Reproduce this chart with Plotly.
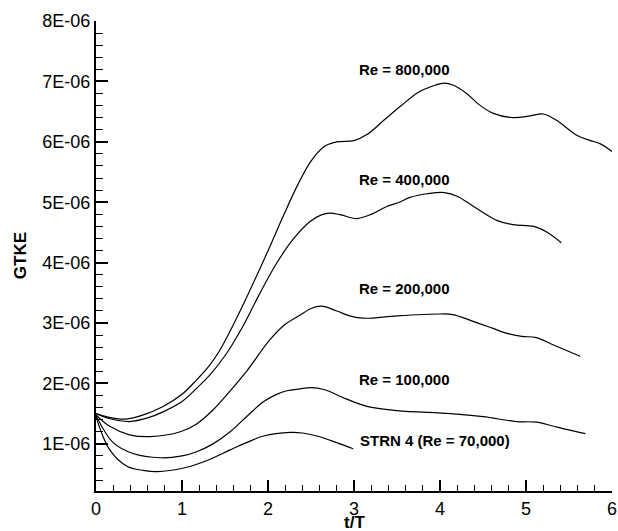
import plotly.graph_objects as go

# ---- data (t/T, GTKE in units of 1E-06) ----
re800_t = [0, 0.15, 0.35, 0.55, 0.78, 1.00, 1.17, 1.32, 1.44, 1.60, 1.73, 1.88, 2.02, 2.18, 2.35, 2.50,
           2.65, 2.80, 3.00, 3.15, 3.35, 3.55, 3.75, 3.95, 4.05, 4.15, 4.31, 4.45, 4.62, 4.85, 5.05,
           5.20, 5.35, 5.59, 5.75, 5.86, 6.00]
re800_g = [1.50, 1.44, 1.41, 1.48, 1.62, 1.82, 2.06, 2.30, 2.55, 2.98, 3.36, 3.82, 4.26, 4.78, 5.30, 5.68,
           5.92, 6.00, 6.02, 6.12, 6.36, 6.60, 6.82, 6.94, 6.97, 6.94, 6.80, 6.62, 6.47, 6.40, 6.43,
           6.46, 6.36, 6.11, 6.02, 5.97, 5.84]

re400_t = [0, 0.15, 0.39, 0.60, 0.78, 1.00, 1.17, 1.33, 1.52, 1.71, 1.89, 2.10, 2.30, 2.49, 2.62, 2.72,
           2.85, 3.03, 3.20, 3.38, 3.53, 3.65, 3.85, 4.05, 4.20, 4.40, 4.66, 4.85, 5.09, 5.25, 5.41]
re400_g = [1.50, 1.42, 1.37, 1.43, 1.53, 1.70, 1.92, 2.15, 2.50, 2.95, 3.45, 3.99, 4.40, 4.68, 4.79, 4.82,
           4.79, 4.73, 4.80, 4.93, 5.00, 5.08, 5.14, 5.16, 5.10, 4.92, 4.70, 4.63, 4.60, 4.50, 4.33]

re200_t = [0, 0.16, 0.39, 0.63, 0.98, 1.17, 1.36, 1.55, 1.75, 2.02, 2.20, 2.37, 2.50, 2.62,
           2.80, 2.95, 3.11, 3.50, 4.00, 4.15, 4.40, 4.60, 4.78, 4.95, 5.12, 5.30, 5.63]
re200_g = [1.48, 1.29, 1.15, 1.12, 1.20, 1.33, 1.56, 1.86, 2.20, 2.72, 2.98, 3.13, 3.24, 3.28,
           3.20, 3.12, 3.08, 3.12, 3.15, 3.14, 3.02, 2.92, 2.83, 2.78, 2.76, 2.65, 2.45]

re100_t = [0, 0.20, 0.43, 0.75, 1.00, 1.17, 1.36, 1.56, 1.75, 1.95, 2.10, 2.22, 2.37, 2.50, 2.65, 2.90,
           3.15, 3.50, 4.12, 4.50, 4.89, 5.12, 5.30, 5.47, 5.69]
re100_g = [1.47, 1.02, 0.84, 0.77, 0.80, 0.87, 1.00, 1.20, 1.45, 1.70, 1.82, 1.88, 1.91, 1.93, 1.90, 1.75,
           1.62, 1.55, 1.50, 1.45, 1.37, 1.36, 1.30, 1.24, 1.17]

re70_t = [0, 0.16, 0.36, 0.55, 0.71, 1.02, 1.30, 1.56, 1.75, 1.95, 2.26, 2.40, 2.57, 2.80, 2.99]
re70_g = [1.45, 0.90, 0.63, 0.56, 0.54, 0.60, 0.73, 0.90, 1.02, 1.13, 1.19, 1.18, 1.13, 1.02, 0.92]

labels = ["Re = 800,000", "Re = 400,000", "Re = 200,000", "Re = 100,000", "STRN 4 (Re = 70,000)"]
label_t = [3.03, 3.03, 3.03, 3.03, 3.05]
label_g = [7.20, 5.37, 3.57, 2.06, 1.06]

y_tickvals = [1, 2, 3, 4, 5, 6, 7, 8]
y_ticktext = ["1E-06", "2E-06", "3E-06", "4E-06", "5E-06", "6E-06", "7E-06", "8E-06"]
x_tickvals = [0, 1, 2, 3, 4, 5, 6]
x_ticktext = ["0", "1", "2", "3", "4", "5", "6"]
x_title = "t/T"
y_title = "GTKE"

SCALE = 1e-6
FONT = "Arial, Liberation Sans, sans-serif"

fig = go.Figure()
for t, g in [(re800_t, re800_g), (re400_t, re400_g), (re200_t, re200_g),
             (re100_t, re100_g), (re70_t, re70_g)]:
    fig.add_trace(go.Scatter(
        x=t, y=[v * SCALE for v in g], mode="lines",
        line=dict(color="black", width=1.2, shape="spline", smoothing=1.0),
        showlegend=False, hoverinfo="skip"))

for txt, t, g in zip(labels, label_t, label_g):
    fig.add_annotation(x=t, y=g * SCALE, text="<b>" + txt + "</b>", showarrow=False,
                       xanchor="left", yanchor="middle",
                       font=dict(family=FONT, size=15, color="black"))

# axis titles
fig.add_annotation(xref="paper", yref="paper", x=0.5, y=-0.068, text="<b>" + x_title + "</b>",
                   showarrow=False, xanchor="center", yanchor="middle",
                   font=dict(family=FONT, size=17, color="black"))
fig.add_annotation(xref="paper", yref="paper", x=-0.147, y=0.5, text="<b>" + y_title + "</b>",
                   showarrow=False, xanchor="center", yanchor="middle", textangle=-90,
                   font=dict(family=FONT, size=17, color="black"))

fig.update_layout(
    width=618, height=531,
    margin=dict(l=96, r=6, t=21, b=40),
    plot_bgcolor="white", paper_bgcolor="white",
    font=dict(family=FONT, color="black"),
)

fig.update_xaxes(
    range=[0, 6], tickmode="array", tickvals=x_tickvals, ticktext=x_ticktext,
    showgrid=False, zeroline=False, showline=True, linecolor="black", linewidth=2,
    ticks="inside", ticklen=11, tickwidth=2, tickcolor="black",
    tickfont=dict(family=FONT, size=18, color="black"),
    minor=dict(dtick=0.2, tick0=0, ticks="inside", ticklen=6, tickwidth=1, tickcolor="black", showgrid=False),
    automargin=False,
)
fig.update_yaxes(
    range=[0.22 * SCALE, 8 * SCALE], tickmode="array",
    tickvals=[v * SCALE for v in y_tickvals], ticktext=y_ticktext,
    showgrid=False, zeroline=False, showline=True, linecolor="black", linewidth=2,
    ticks="inside", ticklen=12, tickwidth=2, tickcolor="black",
    tickfont=dict(family=FONT, size=18, color="black"),
    minor=dict(dtick=0.2 * SCALE, tick0=0, ticks="inside", ticklen=7, tickwidth=1, tickcolor="black", showgrid=False),
    automargin=False,
)

fig.write_html("out.html")
